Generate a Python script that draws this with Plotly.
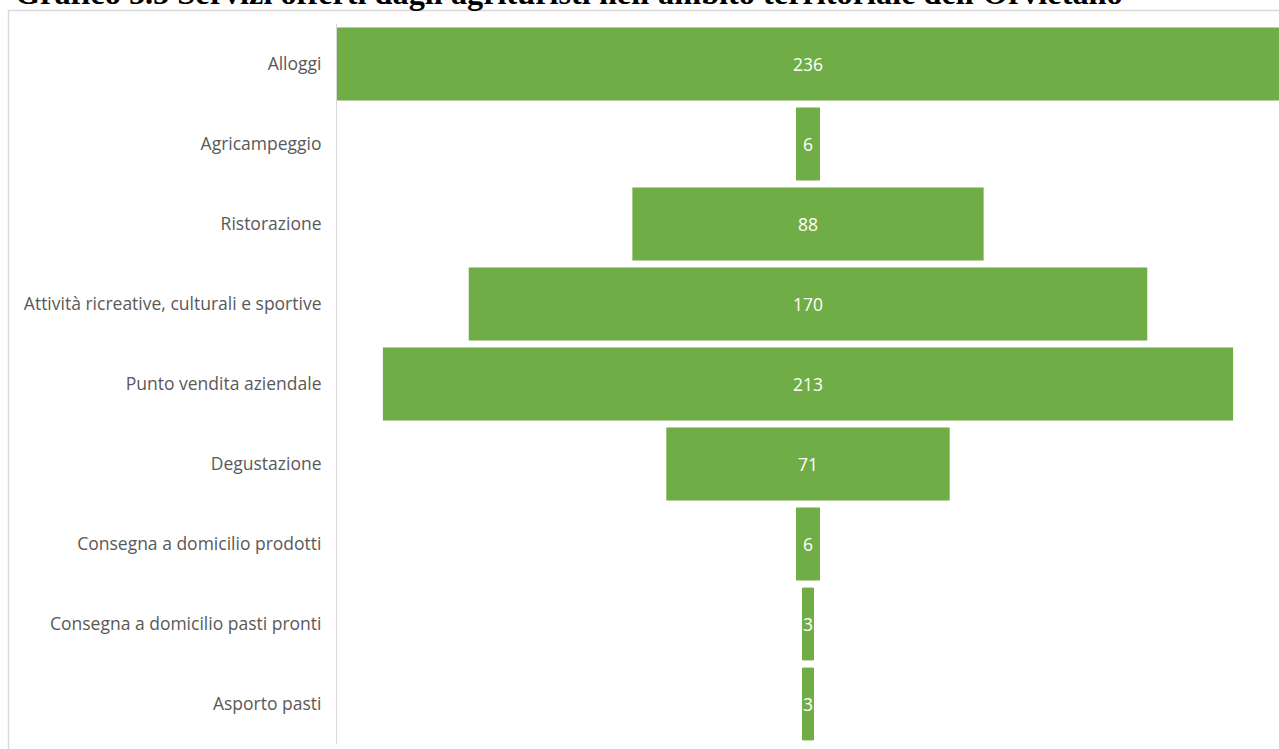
import plotly.graph_objects as go

categories = ["Alloggi", "Agricampeggio", "Ristorazione",
              "Attività ricreative, culturali e sportive",
              "Punto vendita aziendale", "Degustazione",
              "Consegna a domicilio prodotti",
              "Consegna a domicilio pasti pronti", "Asporto pasti"]
values = [236, 6, 88, 170, 213, 71, 6, 3, 3]
title_text = "Grafico 5.5 Servizi offerti dagli agrituristi nell'ambito territoriale dell'Orvietano"

W, H = 1279, 749
L, R, T, B = 337, 0, 24, 5
pw, ph = W - L - R, H - T - B

fig = go.Figure(go.Funnel(
    y=categories, x=values,
    marker=dict(color="#70ad47"),
    connector=dict(visible=False),
    textposition="inside", textinfo="value",
    insidetextfont=dict(color="white", size=17.5, family="Open Sans"),
    textangle=0,
    constraintext="none",
))

vmax = max(values)
fig.update_layout(
    width=W, height=H,
    margin=dict(l=L, r=R, t=T, b=B, pad=0),
    paper_bgcolor="white", plot_bgcolor="white",
    showlegend=False,
    funnelgap=0.09,
    uniformtext=dict(minsize=17.5, mode="show"),
    xaxis=dict(range=[-vmax / 2, vmax / 2], visible=False, fixedrange=True),
    yaxis=dict(showline=True, linecolor="#d9d9d9", linewidth=1,
               tickfont=dict(color="#595959", size=17.5, family="Open Sans"),
               ticks="", ticklabelstandoff=11, showgrid=False, automargin=False),
    font=dict(family="Open Sans"),
)

fig.add_shape(type="rect", xref="paper", yref="paper",
              x0=(8.5 - L) / pw, x1=1.05, y0=-0.1, y1=1 + (T - 10.5) / ph,
              line=dict(color="#d9d9d9", width=1.5), layer="below")

fig.add_annotation(text="<b>" + title_text + "</b>", xref="paper", yref="paper",
                   x=(13 - L) / pw, xanchor="left",
                   y=1 + (T + 27) / ph, yanchor="top", showarrow=False,
                   font=dict(family="Liberation Serif", size=32.3, color="black"))

fig.write_html("out.html", config={"displayModeBar": False},
               post_script="document.body.style.margin='0';document.body.style.overflow='hidden';")
